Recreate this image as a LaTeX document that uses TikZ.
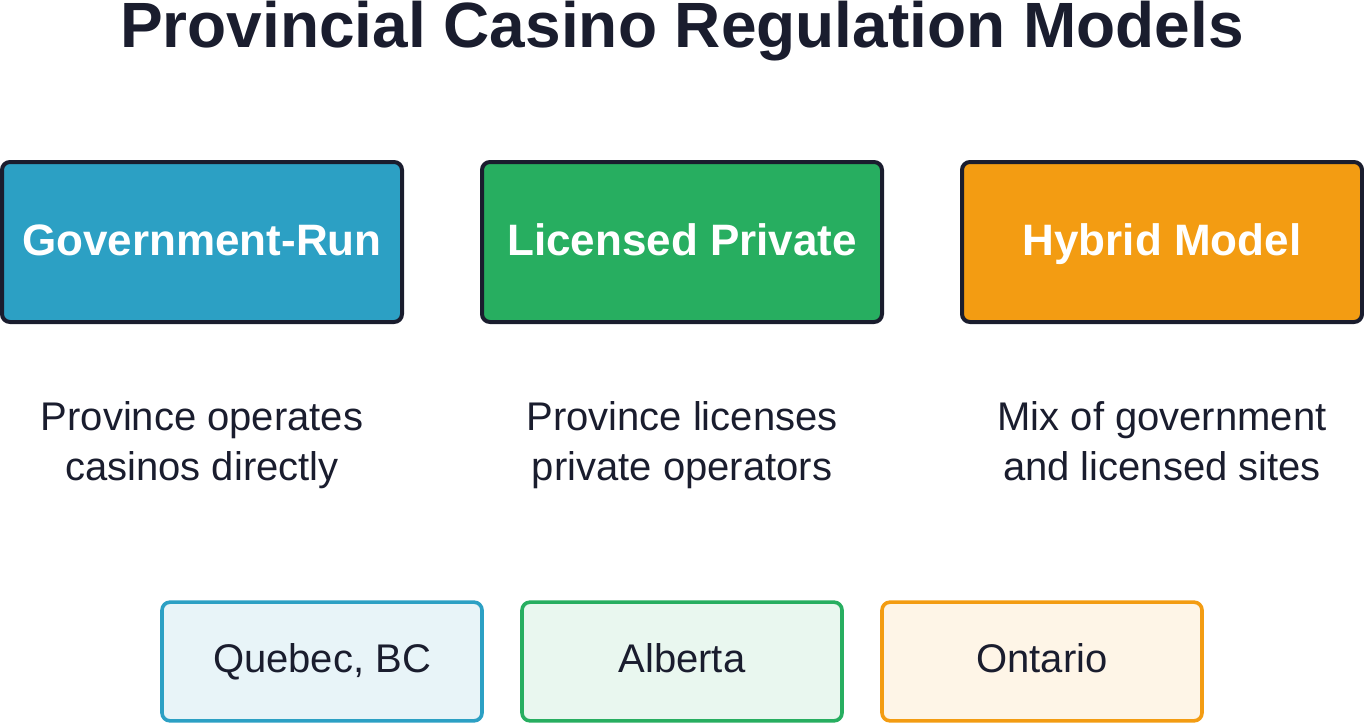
\documentclass[tikz,border=0pt]{standalone}
\usepackage{fontspec}
\setmainfont{Liberation Sans}
\definecolor{ink}{HTML}{1A1D2E}
\definecolor{govblue}{HTML}{2CA0C4}
\definecolor{licgreen}{HTML}{27AE60}
\definecolor{hyborange}{HTML}{F39C12}
\definecolor{govlight}{HTML}{E8F4F8}
\definecolor{liclight}{HTML}{E9F7EF}
\definecolor{hyblight}{HTML}{FEF5E7}
\begin{document}
\begin{tikzpicture}[x=0.75pt,y=-0.75pt,
  model/.style={draw=ink,line width=3pt,rounded corners=6pt,minimum width=300pt,minimum height=120pt,
    text=white,font=\fontsize{33}{40}\selectfont\bfseries,text height=24pt,text depth=4.5pt},
  desc/.style={text=ink,align=center,font=\fontsize{30}{37.5}\selectfont},
  place/.style={line width=2.7pt,rounded corners=6pt,minimum width=240pt,minimum height=89pt,
    text=ink,font=\fontsize{30}{36}\selectfont,text height=22pt,text depth=5.5pt}]
\useasboundingbox(0,0) rectangle (1364,724);
\node[anchor=base,text=ink,font=\fontsize{48}{58}\selectfont\bfseries](title) at (682,48){Provincial Casino Regulation Models};

\node[model,fill=govblue](gov) at (202,242){Government-Run};
\node[model,fill=licgreen](lic) at (682,242){Licensed Private};
\node[model,fill=hyborange](hyb) at (1162,242){Hybrid Model};

\node[desc](govdesc) at (202,445){\strut Province operates\\\strut casinos directly};
\node[desc](licdesc) at (682,445){\strut Province licenses\\\strut private operators};
\node[desc](hybdesc) at (1162,445){\strut Mix of government\\\strut and licensed sites};

\node[place,draw=govblue,fill=govlight](qc) at (322,661.5){Quebec, BC};
\node[place,draw=licgreen,fill=liclight](ab) at (682,661.5){Alberta};
\node[place,draw=hyborange,fill=hyblight](on) at (1042,661.5){Ontario};
\end{tikzpicture}
\end{document}
